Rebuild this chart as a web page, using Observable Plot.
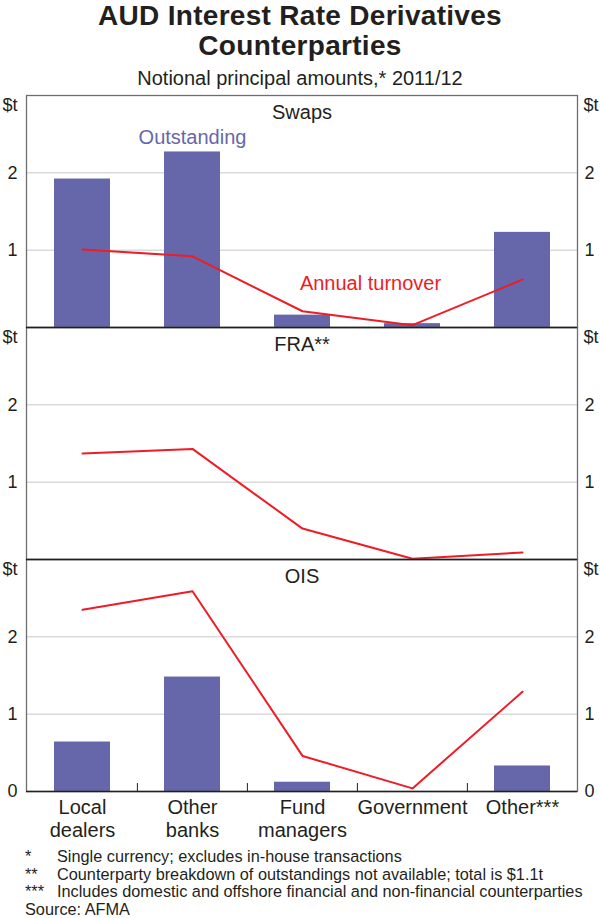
<!DOCTYPE html>
<html>
<head>
<meta charset="utf-8">
<script src="https://cdn.jsdelivr.net/npm/d3@7"></script>
<script src="https://cdn.jsdelivr.net/npm/@observablehq/plot@0.6"></script>
<style>
  html, body { margin: 0; padding: 0; background: #fff; }
  body { font-family: "Liberation Sans", Arial, Helvetica, sans-serif; color: #231f20; }
  #wrap { position: relative; width: 600px; height: 918px; overflow: hidden; }
  .title { position: absolute; left: 0; width: 600px; text-align: center;
           font-weight: bold; font-size: 28px; letter-spacing: 0.3px; line-height: 22px; white-space: nowrap; }
  .sub { position: absolute; left: 0; width: 600px; top: 67px; text-align: center;
         font-size: 20px; line-height: 22px; }
  #chart { position: absolute; left: 0; top: 90px; }
  .note { position: absolute; left: 25px; font-size: 16.3px; line-height: 14px; white-space: nowrap; }
  .note .m { display: inline-block; width: 32px; }
</style>
</head>
<body>
<div id="wrap">
  <div class="title" style="top:4.8px">AUD Interest Rate Derivatives</div>
  <div class="title" style="top:35.3px">Counterparties</div>
  <div class="sub">Notional principal amounts,* 2011/12</div>
  <div id="chart"></div>
  <div class="note" style="top:848.9px"><span class="m">*</span>Single currency; excludes in-house transactions</div>
  <div class="note" style="top:866.7px"><span class="m">**</span>Counterparty breakdown of outstandings not available; total is $1.1t</div>
  <div class="note" style="top:884.3px"><span class="m">***</span>Includes domestic and offshore financial and non-financial counterparties</div>
  <div class="note" style="top:901.6px">Source: AFMA</div>
</div>
<script>
// ---- Data ($ trillion) ----
const categories = ["Local dealers", "Other banks", "Fund managers", "Government", "Other***"];
const categoryLabels = ["Local\ndealers", "Other\nbanks", "Fund\nmanagers", "Government", "Other***"];
const panels = ["Swaps", "FRA**", "OIS"];
const swapsOutstanding = [1.92, 2.27, 0.16, 0.05, 1.23];
const swapsTurnover    = [1.01, 0.92, 0.21, 0.03, 0.62];
const fraTurnover      = [1.37, 1.43, 0.40, 0.01, 0.09];
const oisOutstanding   = [0.64, 1.48, 0.12, null, 0.33];
const oisTurnover      = [2.35, 2.59, 0.46, 0.04, 1.29];
const yTicks = [1, 2];
const yTopLabel = "$t";

// ---- Tables built from the arrays ----
const bars = [];
const lines = [];
categories.forEach((c, i) => {
  if (swapsOutstanding[i] != null) bars.push({panel: "Swaps", cat: c, value: swapsOutstanding[i]});
  if (oisOutstanding[i] != null) bars.push({panel: "OIS", cat: c, value: oisOutstanding[i]});
});
[["Swaps", swapsTurnover], ["FRA**", fraTurnover], ["OIS", oisTurnover]].forEach(([p, arr]) => {
  categories.forEach((c, i) => lines.push({panel: p, cat: c, value: arr[i]}));
});

const BLUE = "#6667ab";
const RED = "#ee1c25";
const FONT = "'Liberation Sans', Arial, Helvetica, sans-serif";

const chart = Plot.plot({
  width: 600,
  height: 751,
  marginTop: 4.5,
  marginBottom: 50,
  marginLeft: 26,
  marginRight: 23,
  style: {background: "transparent", fontFamily: FONT, color: "#231f20", overflow: "visible"},
  x: {type: "band", domain: categories, padding: 0, axis: null},
  y: {domain: [0, 3], axis: null},
  fy: {domain: panels, padding: 0, axis: null},
  marks: [
    Plot.ruleY(yTicks, {stroke: "#c8c8c8", strokeWidth: 1}),
    Plot.barY(bars, {x: "cat", y: "value", fy: "panel", fill: BLUE, insetLeft: 27, insetRight: 27}),
    Plot.lineY(lines, {x: "cat", y: "value", fy: "panel", z: "panel", stroke: RED, strokeWidth: 2}),
    Plot.frame({stroke: "#6e6e6e", strokeWidth: 1.3}),
    Plot.ruleY([0], {stroke: "#231f20", strokeWidth: 1.5}),
    // category separator ticks on the bottom axis
    Plot.ruleX(categories.slice(1), {x: d => d, fy: () => "OIS", y1: 0, y2: 0.103, dx: -55.1, stroke: "#231f20", strokeWidth: 1}),
    // y tick labels, both sides
    Plot.text(yTicks, {y: d => d, text: d => String(d), frameAnchor: "left", textAnchor: "end", dx: -9, fontSize: 18, fill: "#231f20"}),
    Plot.text(yTicks, {y: d => d, text: d => String(d), frameAnchor: "right", textAnchor: "start", dx: 7, fontSize: 18, fill: "#231f20"}),
    Plot.text([yTopLabel], {y: () => 3, text: d => d, frameAnchor: "left", textAnchor: "end", lineAnchor: "top", dx: -9, dy: 2.5, fontSize: 18, fill: "#231f20"}),
    Plot.text([yTopLabel], {y: () => 3, text: d => d, frameAnchor: "right", textAnchor: "start", lineAnchor: "top", dx: 6, dy: 2.5, fontSize: 18, fill: "#231f20"}),
    Plot.text([0], {y: d => d, fy: () => "OIS", text: d => String(d), frameAnchor: "left", textAnchor: "end", dx: -9, fontSize: 18, fill: "#231f20"}),
    Plot.text([0], {y: d => d, fy: () => "OIS", text: d => String(d), frameAnchor: "right", textAnchor: "start", dx: 7, fontSize: 18, fill: "#231f20"}),
    // panel titles
    Plot.text(panels, {fy: d => d, text: d => d, frameAnchor: "top", lineAnchor: "top", dy: 9, fontSize: 20, fill: "#231f20"}),
    // series labels
    Plot.text(["Outstanding"], {fy: () => "Swaps", x: () => "Other banks", y: () => 2.46, text: d => d, fill: BLUE, fontSize: 20}),
    Plot.text(["Annual turnover"], {fy: () => "Swaps", x: () => "Government", y: () => 0.566, dx: -42, text: d => d, fill: RED, fontSize: 20}),
    // category labels
    Plot.text(categories, {x: d => d, fy: () => "OIS", text: (d, i) => categoryLabels[i], frameAnchor: "bottom", lineAnchor: "top", dy: 6.3, lineHeight: 1.15, fontSize: 20, fill: "#231f20"})
  ]
});
document.getElementById("chart").appendChild(chart);
</script>
</body>
</html>
